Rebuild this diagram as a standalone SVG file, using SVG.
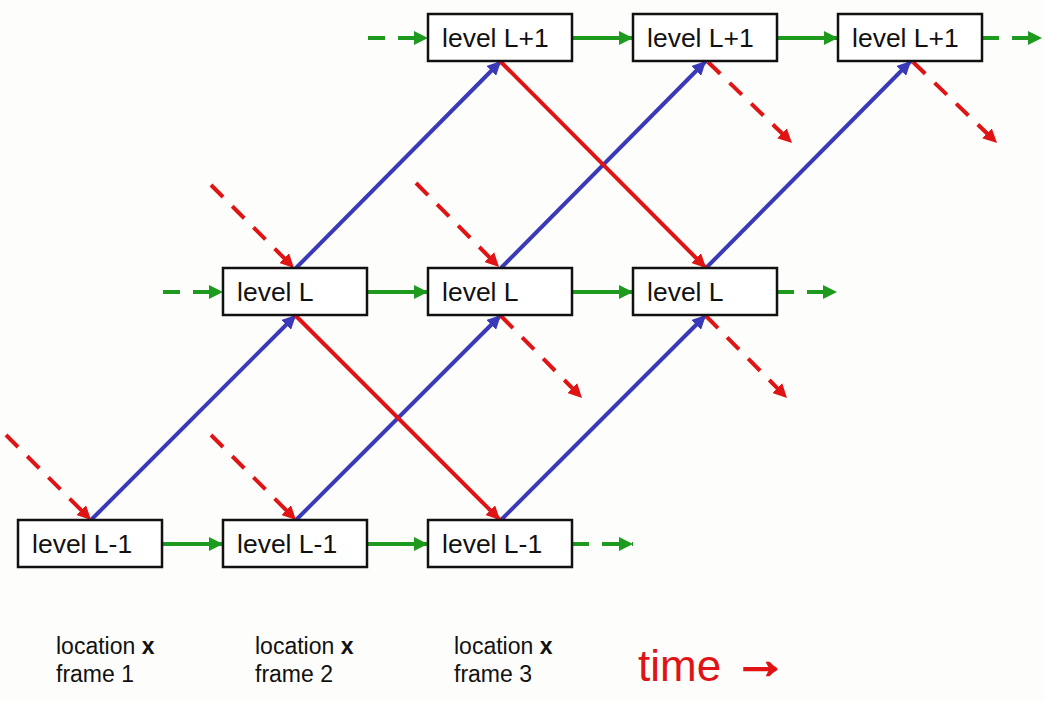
<svg xmlns="http://www.w3.org/2000/svg" width="1045" height="701" viewBox="0 0 1045 701">
<style>
.box{fill:#ffffff;stroke:#111111;stroke-width:2.5}
.lbl{font-family:"Liberation Sans",Arial,sans-serif;font-size:26.5px;fill:#111111}
.cap{font-family:"Liberation Sans",Arial,sans-serif;font-size:23px;fill:#111111}
.g{stroke:#1e9a1e;stroke-width:4;fill:none;marker-end:url(#ag)}
.b{stroke:#3a3ab8;stroke-width:4;fill:none;marker-end:url(#ab)}
.r{stroke:#e01414;stroke-width:4;fill:none;marker-end:url(#ar)}
.d{stroke-dasharray:17 13}
</style>
<defs>
<marker id="ag" markerUnits="userSpaceOnUse" markerWidth="16" markerHeight="14" refX="14" refY="7" orient="auto"><path d="M0,0 L14,7 L0,14 z" fill="#1e9a1e"/></marker>
<marker id="ab" markerUnits="userSpaceOnUse" markerWidth="16" markerHeight="14" refX="14" refY="7" orient="auto"><path d="M0,0 L14,7 L0,14 z" fill="#3a3ab8"/></marker>
<marker id="ar" markerUnits="userSpaceOnUse" markerWidth="16" markerHeight="14" refX="14" refY="7" orient="auto"><path d="M0,0 L14,7 L0,14 z" fill="#e01414"/></marker>
</defs>
<rect x="0" y="0" width="1045" height="701" fill="#fdfdfb"/>
<g id="connectors">
<line class="g d" x1="368" y1="38" x2="428" y2="38"/>
<line class="g" x1="572" y1="38" x2="633" y2="38"/>
<line class="g" x1="777" y1="38" x2="838" y2="38"/>
<line class="g d" x1="982" y1="38" x2="1042" y2="38"/>
<line class="g d" x1="163" y1="292" x2="223" y2="292"/>
<line class="g" x1="367" y1="292" x2="428" y2="292"/>
<line class="g" x1="572" y1="292" x2="633" y2="292"/>
<line class="g d" x1="777" y1="292" x2="837" y2="292"/>
<line class="g" x1="163" y1="544" x2="223" y2="544"/>
<line class="g" x1="367" y1="544" x2="428" y2="544"/>
<line class="g d" x1="572" y1="544" x2="633" y2="544"/>
<line class="b" x1="91" y1="520" x2="296" y2="315"/>
<line class="b" x1="296" y1="520" x2="501" y2="315"/>
<line class="b" x1="501" y1="520" x2="706" y2="315"/>
<line class="b" x1="296" y1="268" x2="501" y2="61"/>
<line class="b" x1="501" y1="268" x2="706" y2="61"/>
<line class="b" x1="706" y1="268" x2="911" y2="61"/>
<line class="r" x1="500" y1="61" x2="706" y2="268"/>
<line class="r" x1="295" y1="315" x2="500" y2="520"/>
<line class="r d" x1="6" y1="435" x2="91" y2="520"/>
<line class="r d" x1="211" y1="435" x2="296" y2="520"/>
<line class="r d" x1="211" y1="185" x2="294" y2="268"/>
<line class="r d" x1="416" y1="183" x2="499" y2="267"/>
<line class="r d" x1="501" y1="316" x2="582" y2="398"/>
<line class="r d" x1="706" y1="316" x2="787" y2="398"/>
<line class="r d" x1="708" y1="62" x2="792" y2="143"/>
<line class="r d" x1="913" y1="62" x2="997" y2="143"/>
</g>
<g id="n_lp1_1"><rect class="box" x="428" y="14" width="144" height="47"/><text class="lbl" x="442" y="47">level L+1</text></g>
<g id="n_lp1_2"><rect class="box" x="633" y="14" width="144" height="47"/><text class="lbl" x="647" y="47">level L+1</text></g>
<g id="n_lp1_3"><rect class="box" x="838" y="14" width="144" height="47"/><text class="lbl" x="852" y="47">level L+1</text></g>
<g id="n_l_1"><rect class="box" x="223" y="268" width="144" height="47"/><text class="lbl" x="237" y="301">level L</text></g>
<g id="n_l_2"><rect class="box" x="428" y="268" width="144" height="47"/><text class="lbl" x="442" y="301">level L</text></g>
<g id="n_l_3"><rect class="box" x="633" y="268" width="144" height="47"/><text class="lbl" x="647" y="301">level L</text></g>
<g id="n_lm1_1"><rect class="box" x="18" y="520" width="144" height="47"/><text class="lbl" x="32" y="553">level L-1</text></g>
<g id="n_lm1_2"><rect class="box" x="223" y="520" width="144" height="47"/><text class="lbl" x="237" y="553">level L-1</text></g>
<g id="n_lm1_3"><rect class="box" x="428" y="520" width="144" height="47"/><text class="lbl" x="442" y="553">level L-1</text></g>
<g id="captions">
<text class="cap" x="56" y="654">location <tspan font-weight="bold">x</tspan></text>
<text class="cap" x="56" y="682">frame 1</text>
<text class="cap" x="255" y="654">location <tspan font-weight="bold">x</tspan></text>
<text class="cap" x="255" y="682">frame 2</text>
<text class="cap" x="454" y="654">location <tspan font-weight="bold">x</tspan></text>
<text class="cap" x="454" y="682">frame 3</text>
<text x="638" y="681" font-family="'Liberation Sans',Arial,sans-serif" font-size="44" fill="#e01414">time <tspan font-size="54" dy="-3" stroke="#e01414" stroke-width="2">→</tspan></text>
</g>
</svg>
